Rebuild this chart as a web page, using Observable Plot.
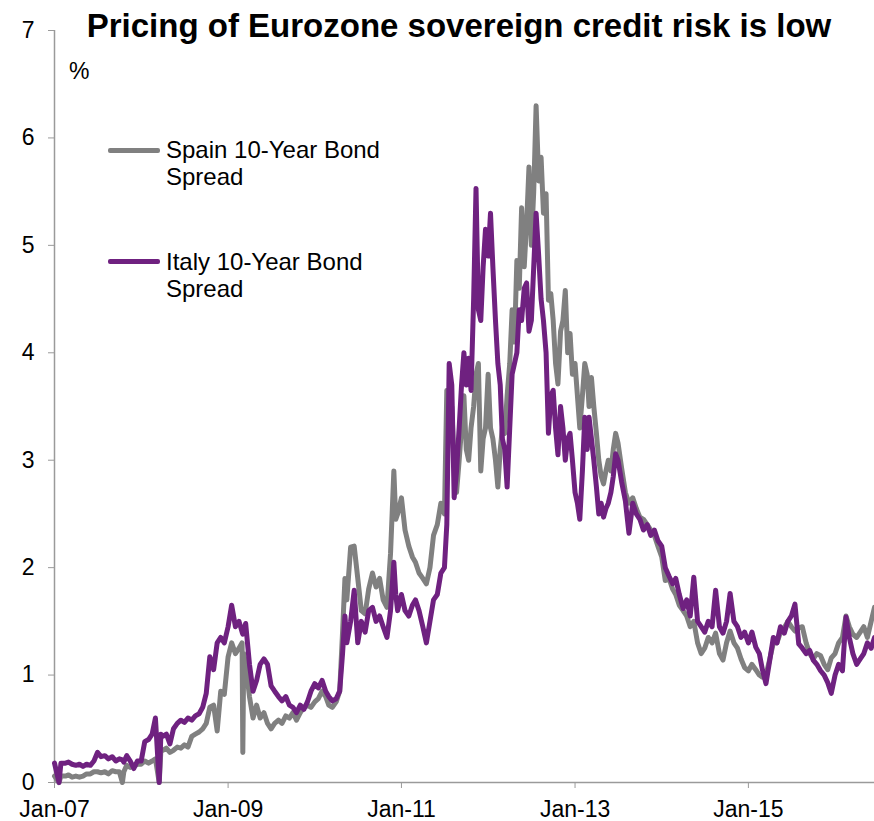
<!DOCTYPE html>
<html>
<head>
<meta charset="utf-8">
<script src="https://cdn.jsdelivr.net/npm/d3@7"></script>
<script src="https://cdn.jsdelivr.net/npm/@observablehq/plot@0.6"></script>
<style>
  html, body { margin: 0; padding: 0; background: #fff; }
  #wrap { position: relative; width: 874px; height: 821px; font-family: "Liberation Sans", Arial, sans-serif; color: #000; }
  #wrap svg { display: block; }
  .title { position: absolute; left: 0; width: 918px; top: 9px; text-align: center; font-size: 33px; line-height: 33px; font-weight: bold; white-space: nowrap; }
  .unit { position: absolute; left: 69px; top: 58px; font-size: 23px; line-height: 27px; }
  .leg { position: absolute; left: 166px; font-size: 24px; line-height: 27px; }
  .legline { position: absolute; left: 108px; width: 52px; height: 5px; border-radius: 2px; }
</style>
</head>
<body>
<div id="wrap"></div>
<script>
// ---- Data ----
const titleText = "Pricing of Eurozone sovereign credit risk is low";
const unitLabel = "%";
const seriesNames = ["Spain 10-Year Bond\nSpread", "Italy 10-Year Bond\nSpread"];
const seriesColors = ["#808080", "#6f2180"];
const yTicks = [0, 1, 2, 3, 4, 5, 6, 7];
const xTickDates = ["2007-01-01", "2009-01-01", "2011-01-01", "2013-01-01", "2015-01-01"];

const dates = [
  // 2007
  "2007-01-01","2007-01-20","2007-01-28","2007-02-16","2007-03-01","2007-03-16","2007-04-01","2007-04-16","2007-05-01","2007-05-16","2007-06-01","2007-06-16","2007-07-01","2007-07-16","2007-08-01","2007-08-16","2007-09-01","2007-09-16","2007-10-01","2007-10-14","2007-10-20","2007-11-01","2007-11-16","2007-12-01","2007-12-16",
  // 2008
  "2008-01-01","2008-01-16","2008-02-01","2008-02-16","2008-03-01","2008-03-17","2008-03-24","2008-04-01","2008-04-16","2008-05-01","2008-05-16","2008-06-01","2008-06-16","2008-07-01","2008-07-16","2008-08-01","2008-08-16","2008-09-01","2008-09-16","2008-10-01","2008-10-16","2008-11-01","2008-11-16","2008-12-01","2008-12-16",
  // 2009
  "2009-01-01","2009-01-16","2009-02-01","2009-02-16","2009-03-01","2009-03-04","2009-03-08","2009-03-16","2009-04-01","2009-04-16","2009-05-01","2009-05-16","2009-06-01","2009-06-16","2009-07-01","2009-07-16","2009-08-01","2009-08-16","2009-09-01","2009-09-16","2009-10-01","2009-10-16","2009-11-01","2009-11-16","2009-12-01","2009-12-16",
  // 2010
  "2010-01-01","2010-01-16","2010-02-01","2010-02-16","2010-03-01","2010-03-16","2010-04-01","2010-04-16","2010-04-28","2010-05-08","2010-05-16","2010-06-01","2010-06-16","2010-07-01","2010-07-16","2010-08-01","2010-08-16","2010-09-01","2010-09-16","2010-10-01","2010-10-16","2010-11-01","2010-11-16","2010-11-30","2010-12-08","2010-12-16",
  // 2011 H1
  "2011-01-01","2011-01-16","2011-02-01","2011-02-16","2011-03-01","2011-03-16","2011-04-01","2011-04-16","2011-05-01","2011-05-16","2011-06-01","2011-06-16",
  // 2011 H2
  "2011-07-01","2011-07-11","2011-07-21","2011-08-01","2011-08-11","2011-08-21","2011-09-01","2011-09-11","2011-09-21","2011-10-01","2011-10-11","2011-10-21","2011-11-01","2011-11-11","2011-11-21","2011-12-01","2011-12-11","2011-12-21",
  // 2012
  "2012-01-01","2012-01-11","2012-01-21","2012-02-01","2012-02-11","2012-02-21","2012-03-01","2012-03-11","2012-03-21","2012-04-01","2012-04-11","2012-04-21","2012-05-01","2012-05-11","2012-05-21","2012-06-01","2012-06-11","2012-06-21","2012-07-01","2012-07-11","2012-07-21","2012-08-01","2012-08-11","2012-08-21","2012-09-01","2012-09-11","2012-09-21","2012-10-01","2012-10-11","2012-10-21","2012-11-01","2012-11-11","2012-11-21","2012-12-01","2012-12-11","2012-12-21",
  // 2013 H1
  "2013-01-01","2013-01-11","2013-01-21","2013-02-01","2013-02-11","2013-02-21","2013-03-01","2013-03-11","2013-03-21","2013-04-01","2013-04-11","2013-04-21","2013-05-01","2013-05-11","2013-05-21","2013-06-01","2013-06-11","2013-06-21",
  // 2013 H2
  "2013-07-01","2013-07-16","2013-08-01","2013-08-16","2013-09-01","2013-09-16","2013-10-01","2013-10-16","2013-11-01","2013-11-16","2013-12-01","2013-12-16",
  // 2014
  "2014-01-01","2014-01-16","2014-02-01","2014-02-16","2014-03-01","2014-03-16","2014-04-01","2014-04-16","2014-05-01","2014-05-16","2014-06-01","2014-06-16","2014-07-01","2014-07-16","2014-08-01","2014-08-16","2014-09-01","2014-09-16","2014-10-01","2014-10-16","2014-11-01","2014-11-16","2014-12-01","2014-12-16",
  // 2015
  "2015-01-01","2015-01-16","2015-02-01","2015-02-16","2015-03-01","2015-03-16","2015-04-01","2015-04-16","2015-05-01","2015-05-16","2015-06-01","2015-06-16","2015-07-01","2015-07-16","2015-08-01","2015-08-16","2015-09-01","2015-09-16","2015-10-01","2015-10-16","2015-11-01","2015-11-16","2015-12-01","2015-12-16",
  // 2016 H1
  "2016-01-01","2016-01-16","2016-02-01","2016-02-16","2016-03-01","2016-03-16","2016-04-01","2016-04-16","2016-05-01","2016-05-16","2016-06-01","2016-06-15"
];

const spainSpread = [
  // 2007
  0.06,0.0,0.06,0.06,0.07,0.05,0.06,0.05,0.06,0.08,0.08,0.1,0.1,0.09,0.1,0.08,0.11,0.1,0.1,0.0,0.1,0.16,0.14,0.15,0.17,
  // 2008
  0.17,0.2,0.18,0.2,0.22,0.0,0.3,0.3,0.32,0.28,0.3,0.33,0.32,0.35,0.33,0.43,0.45,0.47,0.5,0.55,0.7,0.72,0.48,0.85,0.82,
  // 2009
  1.17,1.3,1.2,1.25,1.3,0.28,1.2,1.1,0.8,0.6,0.72,0.6,0.65,0.55,0.5,0.55,0.58,0.55,0.62,0.6,0.65,0.58,0.65,0.7,0.72,0.7,
  // 2010
  0.75,0.78,0.85,0.8,0.72,0.7,0.75,0.85,1.4,1.9,1.7,2.19,2.2,1.9,1.6,1.57,1.8,1.95,1.82,1.9,1.7,1.63,2.13,2.9,2.45,2.5,
  // 2011 H1
  2.65,2.35,2.2,2.1,2.05,1.95,1.9,1.85,2.0,2.3,2.4,2.6,
  // 2011 H2
  2.5,3.65,3.3, 3.5,2.95,2.7, 3.0,3.3,3.6, 3.1,3.0,3.3, 3.5,3.8,3.9, 2.9,3.2,3.3,
  // 2012
  3.8,3.3,3.2, 3.0,2.75,3.1, 3.3,3.25,3.6, 3.9,4.4,4.1, 4.86,4.6,5.35, 4.8,5.2,5.73, 5.0,5.5,6.3, 5.6,5.82,5.3, 5.48,4.49,4.55, 4.3,3.9,3.71, 4.2,4.3,4.58, 4.0,4.18,3.8,
  // 2013 H1
  3.9,3.6,3.3, 3.6,3.9,3.8, 3.5,3.77,3.5, 3.25,3.0,2.85, 2.78,2.9,3.0, 2.9,3.1,3.25,
  // 2013 H2
  3.16,2.93, 2.7,2.6, 2.65,2.55, 2.47,2.45, 2.4,2.35, 2.3,2.2,
  // 2014
  2.1,1.88, 1.9,1.8, 1.75,1.65, 1.6,1.55, 1.45,1.5, 1.3,1.2, 1.25,1.35, 1.3,1.39, 1.2,1.14, 1.3,1.41, 1.3,1.25, 1.15,1.07,
  // 2015
  1.04,1.1, 1.05,1.0, 0.98,1.0, 1.15,1.3, 1.3,1.4, 1.44,1.5, 1.45,1.41, 1.44,1.45, 1.3,1.2, 1.15,1.2, 1.18,1.1, 1.05,1.16,
  // 2016 H1
  1.2,1.3, 1.35,1.55, 1.45,1.38, 1.35,1.4, 1.45,1.35, 1.5,1.63
];

const italySpread = [
  // 2007
  0.18,0.0,0.18,0.18,0.19,0.17,0.16,0.17,0.15,0.17,0.16,0.2,0.28,0.24,0.25,0.22,0.24,0.2,0.22,0.21,0.19,0.25,0.2,0.13,0.2,
  // 2008
  0.2,0.38,0.4,0.45,0.6,0.0,0.45,0.43,0.45,0.36,0.5,0.55,0.58,0.56,0.6,0.58,0.62,0.64,0.7,0.83,1.17,1.05,1.3,1.35,1.3,
  // 2009
  1.45,1.65,1.45,1.5,1.4,1.38,1.42,1.48,1.1,0.85,0.95,1.1,1.15,1.1,0.9,0.85,0.8,0.76,0.8,0.72,0.7,0.65,0.72,0.68,0.75,0.85,
  // 2010
  0.92,0.88,0.95,0.85,0.8,0.76,0.78,0.85,1.2,1.55,1.3,1.5,1.79,1.3,1.5,1.4,1.6,1.63,1.5,1.55,1.45,1.35,1.6,2.05,1.75,1.6,
  // 2011 H1
  1.75,1.6,1.55,1.65,1.7,1.6,1.45,1.3,1.5,1.7,1.75,1.95,
  // 2011 H2
  2.0,2.4,3.9, 3.7,2.65,2.9, 3.3,3.7,4.0, 3.7,3.95,3.65, 4.5,5.53,4.4, 4.3,4.8,5.15,
  // 2012
  4.9,5.3,4.8, 4.3,3.9,3.7, 3.2,3.1,2.75, 3.3,3.8,3.9, 4.0,4.4,4.3, 4.6,4.65,4.2, 4.3,4.8,5.3, 4.9,4.5,4.3, 4.0,3.25,3.6, 3.65,3.3,3.05, 3.5,3.3,3.0, 3.2,3.25,3.0,
  // 2013 H1
  2.7,2.6,2.45, 2.9,3.4,3.1, 3.4,3.2,3.0, 2.75,2.5,2.6, 2.47,2.55,2.6, 2.7,2.85,3.06,
  // 2013 H2
  3.0,2.8, 2.62,2.32, 2.6,2.5, 2.45,2.35, 2.4,2.3, 2.35,2.25,
  // 2014
  2.2,2.0, 1.92,1.85, 1.9,1.75, 1.62,1.7, 1.55,1.91, 1.5,1.45, 1.4,1.5, 1.45,1.79, 1.45,1.39, 1.5,1.76, 1.5,1.45, 1.35,1.4,
  // 2015
  1.3,1.4, 1.26,1.2, 1.05,0.92, 1.14,1.35, 1.3,1.45, 1.39,1.5, 1.55,1.66, 1.29,1.25, 1.2,1.23, 1.14,1.1, 1.04,1.0, 0.93,0.83,
  // 2016 H1
  1.0,1.1, 1.04,1.54, 1.35,1.2, 1.1,1.15, 1.2,1.3, 1.25,1.35
];

// ---- Build table ----
const n = Math.min(dates.length, spainSpread.length, italySpread.length);
const rows = [];
for (let i = 0; i < n; i++) {
  rows.push({date: new Date(dates[i]), spain: spainSpread[i], italy: italySpread[i]});
}
const xStart = new Date(dates[0]);
const xEnd = new Date(dates[dates.length - 1]);

const chart = Plot.plot({
  width: 874,
  height: 821,
  marginLeft: 54,
  marginRight: 0,
  marginTop: 30,
  marginBottom: 39,
  style: {fontFamily: "'Liberation Sans', Arial, sans-serif", fontSize: "23px", color: "#000", background: "#fff", overflow: "visible"},
  x: {type: "utc", domain: [xStart, xEnd]},
  y: {domain: [0, 7]},
  marks: [
    Plot.ruleY([0], {stroke: "#9a9a9a", strokeWidth: 1.5}),
    Plot.ruleX([xStart], {stroke: "#9a9a9a", strokeWidth: 1.5}),
    Plot.axisY({ticks: yTicks, tickFormat: d => String(d), tickSize: 6, tickPadding: 14, stroke: "#9a9a9a", fill: "#000", label: null}),
    Plot.axisX({ticks: xTickDates.map(d => new Date(d)), tickFormat: d3.utcFormat("%b-%y"), tickSize: 6, tickPadding: 12, stroke: "#9a9a9a", fill: "#000", label: null}),
    Plot.line(rows, {x: "date", y: "spain", stroke: seriesColors[0], strokeWidth: 5, strokeLinejoin: "round", strokeLinecap: "round"}),
    Plot.line(rows, {x: "date", y: "italy", stroke: seriesColors[1], strokeWidth: 5, strokeLinejoin: "round", strokeLinecap: "round"})
  ]
});

const wrap = document.getElementById("wrap");
wrap.appendChild(chart);

const title = document.createElement("div");
title.className = "title";
title.textContent = titleText;
wrap.appendChild(title);

const unit = document.createElement("div");
unit.className = "unit";
unit.textContent = unitLabel;
wrap.appendChild(unit);

const legendTops = [136, 248];
const legendLineTops = [148, 259];
seriesNames.forEach((name, i) => {
  const ln = document.createElement("div");
  ln.className = "legline";
  ln.style.top = legendLineTops[i] + "px";
  ln.style.background = seriesColors[i];
  wrap.appendChild(ln);
  const tx = document.createElement("div");
  tx.className = "leg";
  tx.style.top = legendTops[i] + "px";
  name.split("\n").forEach((part, j) => {
    if (j > 0) tx.appendChild(document.createElement("br"));
    tx.appendChild(document.createTextNode(part));
  });
  wrap.appendChild(tx);
});
</script>
</body>
</html>
